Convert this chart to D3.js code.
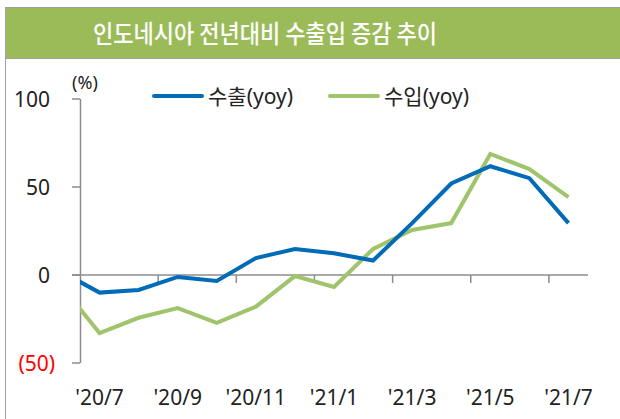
<!DOCTYPE html>
<html>
<head>
<meta charset="utf-8">
<script src="https://cdn.jsdelivr.net/npm/d3@7"></script>
<style>
  body { margin: 0; background: #fff; }
  svg { display: block; font-family: "Noto Sans", "Noto Sans CJK KR", sans-serif; }
</style>
</head>
<body>
<div id="chart"></div>
<script>
// months (first one only shows as the clipped start of the lines)
const months = ["'20/6", "'20/7", "'20/8", "'20/9", "'20/10", "'20/11", "'20/12",
  "'21/1", "'21/2", "'21/3", "'21/4", "'21/5", "'21/6", "'21/7"];
const exportYoy = [2.2, -10.0, -8.5, -1.1, -3.4, 9.6, 14.8, 12.4, 8.2, 29.5, 52.0, 61.8, 55.0, 29.5];
const importYoy = [-5.5, -33.0, -24.3, -18.8, -27.2, -18.0, -0.6, -6.8, 14.8, 25.6, 29.5, 68.8, 60.2, 44.3];
const yTicks = [100, 50, 0, -50];
const seriesNames = ["수출(yoy)", "수입(yoy)"];
const title = "인도네시아 전년대비 수출입 증감 추이";

const W = 620, H = 419;
const colors = { exp: "#006BB6", imp: "#A0C46B", bar: "#9BBB59", axis: "#8c8c8c" };
const plot = { left: 80, right: 588, top: 99, bottom: 363 };

const svg = d3.select("#chart").append("svg")
  .attr("width", W)
  .attr("height", H);

// frame + title bar
svg.append("rect")
  .attr("x", 5.5).attr("y", 7.5)
  .attr("width", 640).attr("height", 440)
  .attr("fill", "#fff")
  .attr("stroke", "#a0a0a0");
svg.append("rect")
  .attr("x", 6).attr("y", 8)
  .attr("width", 640).attr("height", 50)
  .attr("fill", colors.bar);
svg.append("line")
  .attr("x1", 6).attr("x2", 640)
  .attr("y1", 58.5).attr("y2", 58.5)
  .attr("stroke", "#a0a0a0");
svg.append("text")
  .attr("x", 93).attr("y", 43)
  .attr("textLength", 344)
  .attr("lengthAdjust", "spacingAndGlyphs")
  .attr("fill", "#fff")
  .attr("font-family", "Noto Sans CJK KR")
  .attr("font-size", 25)
  .attr("font-weight", 500)
  .text(title);

// scales: x on month index, categories '20/7..'21/7 fill the axis
const x = d3.scaleLinear().domain([0.5, 13.5]).range([plot.left, plot.right]);
const y = d3.scaleLinear().domain([-50, 100]).range([plot.bottom, plot.top]);

// y axis
svg.append("line")
  .attr("x1", plot.left + 0.5).attr("x2", plot.left + 0.5)
  .attr("y1", y(100)).attr("y2", y(-50))
  .attr("stroke", colors.axis).attr("stroke-width", 1.5);
svg.append("g")
  .selectAll("line")
  .data(yTicks)
  .join("line")
  .attr("x1", plot.left - 8).attr("x2", plot.left)
  .attr("y1", d => y(d)).attr("y2", d => y(d))
  .attr("stroke", colors.axis).attr("stroke-width", 1.5);
svg.append("g")
  .selectAll("text")
  .data(yTicks)
  .join("text")
  .attr("x", d => d < 0 ? 55 : 50)
  .attr("y", d => y(d))
  .attr("dy", "0.36em")
  .attr("text-anchor", "end")
  .attr("fill", d => d < 0 ? "#ff0000" : "#222")
  .attr("font-size", 21)
  .text(d => d < 0 ? "(" + Math.abs(d) + ")" : d);
svg.append("text")
  .attr("x", 85).attr("y", 89)
  .attr("text-anchor", "middle")
  .attr("fill", "#222")
  .attr("font-size", 18)
  .text("(%)");

// x axis (zero line) with ticks every two months
svg.append("line")
  .attr("x1", plot.left - 8).attr("x2", plot.right)
  .attr("y1", y(0)).attr("y2", y(0))
  .attr("stroke", colors.axis).attr("stroke-width", 1.5);
const tickIdx = d3.range(2.5, 13.5, 2);
svg.append("g")
  .selectAll("line")
  .data(tickIdx)
  .join("line")
  .attr("x1", d => x(d)).attr("x2", d => x(d))
  .attr("y1", y(0)).attr("y2", y(0) + 8)
  .attr("stroke", colors.axis).attr("stroke-width", 1.5);
svg.append("g")
  .selectAll("text")
  .data(months.map((m, i) => ({ m, i })).filter(d => d.i % 2 === 1))
  .join("text")
  .attr("x", d => x(d.i))
  .attr("y", 405)
  .attr("text-anchor", "middle")
  .attr("fill", "#222")
  .attr("font-size", 21)
  .text(d => d.m);

// lines, clipped to plot area
svg.append("clipPath").attr("id", "clip")
  .append("rect")
  .attr("x", plot.left).attr("y", 60)
  .attr("width", plot.right - plot.left + 10).attr("height", 340);

const line = d3.line()
  .x((d, i) => x(i))
  .y(d => y(d));

const g = svg.append("g").attr("clip-path", "url(#clip)");
g.append("path")
  .datum(importYoy)
  .attr("d", line)
  .attr("fill", "none")
  .attr("stroke", colors.imp)
  .attr("stroke-width", 4);
g.append("path")
  .datum(exportYoy)
  .attr("d", line)
  .attr("fill", "none")
  .attr("stroke", colors.exp)
  .attr("stroke-width", 4);

// legend
const legend = [
  { name: seriesNames[0], color: colors.exp, x: 152 },
  { name: seriesNames[1], color: colors.imp, x: 328 }
];
const lg = svg.append("g")
  .selectAll("g")
  .data(legend)
  .join("g")
  .attr("transform", d => `translate(${d.x},96)`);
lg.append("line")
  .attr("x1", 2).attr("x2", 50)
  .attr("stroke", d => d.color)
  .attr("stroke-width", 4)
  .attr("stroke-linecap", "round");
lg.append("text")
  .attr("x", 56)
  .attr("dy", "0.36em")
  .attr("fill", "#222")
  .attr("font-size", 21)
  .text(d => d.name);
</script>
</body>
</html>
